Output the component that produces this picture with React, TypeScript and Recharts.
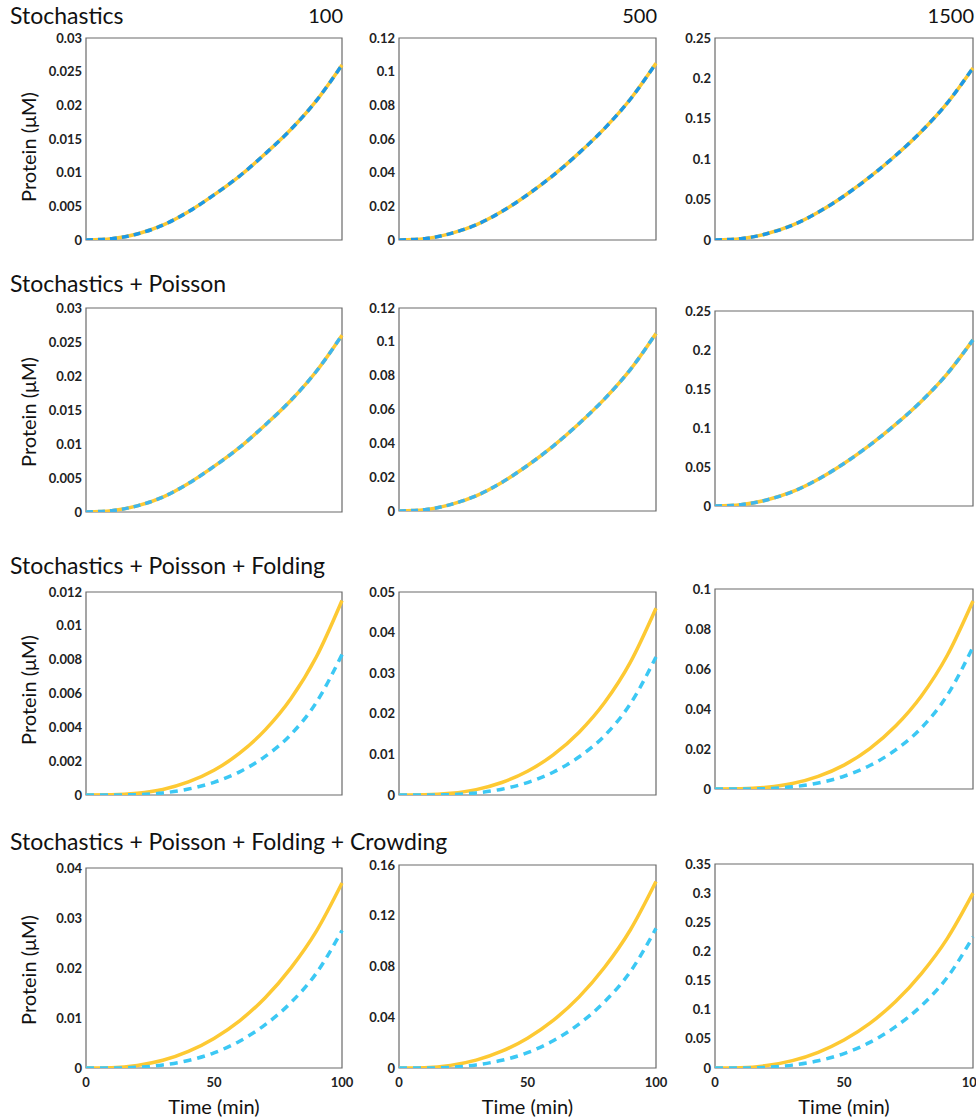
import React from 'react';
import { LineChart, Line, XAxis, YAxis, ReferenceArea } from 'recharts';

const time = [0, 10, 20, 30, 40, 50, 60, 70, 80, 90, 100];

const rowTitles = [
  'Stochastics',
  'Stochastics + Poisson',
  'Stochastics + Poisson + Folding',
  'Stochastics + Poisson + Folding + Crowding',
];
const colTitles = ['100', '500', '1500'];

// y ticks per row / column
const yTicks = [
  [
    [0, 0.005, 0.01, 0.015, 0.02, 0.025, 0.03],
    [0, 0.02, 0.04, 0.06, 0.08, 0.1, 0.12],
    [0, 0.05, 0.1, 0.15, 0.2, 0.25],
  ],
  [
    [0, 0.005, 0.01, 0.015, 0.02, 0.025, 0.03],
    [0, 0.02, 0.04, 0.06, 0.08, 0.1, 0.12],
    [0, 0.05, 0.1, 0.15, 0.2, 0.25],
  ],
  [
    [0, 0.002, 0.004, 0.006, 0.008, 0.01, 0.012],
    [0, 0.01, 0.02, 0.03, 0.04, 0.05],
    [0, 0.02, 0.04, 0.06, 0.08, 0.1],
  ],
  [
    [0, 0.01, 0.02, 0.03, 0.04],
    [0, 0.04, 0.08, 0.12, 0.16],
    [0, 0.05, 0.1, 0.15, 0.2, 0.25, 0.3, 0.35],
  ],
];

// Stochastics (rows 1 & 2: both series overlap)
const stoch100 = [0, 0.0002, 0.0009, 0.0022, 0.0042, 0.0067, 0.0095, 0.0128, 0.0164, 0.0207, 0.026];
const stoch500 = [0, 0.0008, 0.0038, 0.009, 0.0169, 0.0269, 0.0384, 0.0516, 0.0663, 0.0836, 0.105];
const stoch1500 = [0, 0.0017, 0.0077, 0.0183, 0.0343, 0.0545, 0.078, 0.1046, 0.1344, 0.1695, 0.213];

// + Folding
const foldGold100 = [0, 0.00001, 0.0001, 0.00033, 0.00077, 0.00146, 0.00247, 0.00385, 0.00569, 0.00817, 0.0115];
const foldBlue100 = [0, 0, 0.00002, 0.00012, 0.00035, 0.00075, 0.00137, 0.00228, 0.00357, 0.00548, 0.0083];
const foldGold500 = [0, 0.00005, 0.00041, 0.00133, 0.00308, 0.00584, 0.00989, 0.01541, 0.02277, 0.03266, 0.046];
const foldBlue500 = [0, 0, 0.0001, 0.00051, 0.00143, 0.00306, 0.00561, 0.00935, 0.01462, 0.02244, 0.034];
const foldGold1500 = [0, 0.0001, 0.00085, 0.00273, 0.0063, 0.01194, 0.02021, 0.03149, 0.04653, 0.06674, 0.094];
const foldBlue1500 = [0, 0, 0.00021, 0.00107, 0.00298, 0.00639, 0.01172, 0.01953, 0.03053, 0.04686, 0.071];

// + Crowding
const crowdGold100 = [0, 0.00007, 0.00052, 0.00155, 0.00333, 0.00592, 0.00944, 0.01406, 0.01998, 0.02738, 0.037];
const crowdBlue100 = [0, 0, 0.00014, 0.00061, 0.00151, 0.00303, 0.00536, 0.00866, 0.01306, 0.01898, 0.0275];
const crowdGold500 = [0, 0.00029, 0.00206, 0.00617, 0.01323, 0.02352, 0.03749, 0.05586, 0.07938, 0.10878, 0.147];
const crowdBlue500 = [0, 0, 0.00055, 0.00242, 0.00605, 0.0121, 0.02145, 0.03465, 0.05225, 0.0759, 0.11];
const crowdGold1500 = [0, 0.0006, 0.0042, 0.0126, 0.027, 0.048, 0.0765, 0.114, 0.162, 0.222, 0.3];
const crowdBlue1500 = [0, 0, 0.00113, 0.00495, 0.01238, 0.02475, 0.04388, 0.07088, 0.10688, 0.15525, 0.225];

const goldSeries = [
  [stoch100, stoch500, stoch1500],
  [stoch100, stoch500, stoch1500],
  [foldGold100, foldGold500, foldGold1500],
  [crowdGold100, crowdGold500, crowdGold1500],
];
const blueSeries = [
  [stoch100, stoch500, stoch1500],
  [stoch100, stoch500, stoch1500],
  [foldBlue100, foldBlue500, foldBlue1500],
  [crowdBlue100, crowdBlue500, crowdBlue1500],
];

const FONT = 'Lato, "Open Sans", sans-serif';
const GOLD = '#fdc933';
const blueColors = ['#1c98e6', '#3fb6ec', '#3cc8f4', '#3cc8f4'];
const blueDash = ['7 5', '7 5', '8 6', '8 6'];

// plot boxes [top, bottom] per row/col, and [left, right] per col
const colX = [
  [86, 342],
  [399, 656],
  [715, 973],
];
const rowY = [
  [[38, 240], [38, 240], [38, 240]],
  [[308, 512], [308, 511], [311, 506]],
  [[592, 795], [592, 795], [589, 789]],
  [[868, 1068], [865, 1068], [864, 1068]],
];

const AXIS_W = 60;
const TOP_PAD = 10;

interface PanelProps {
  row: number;
  col: number;
}

const Panel: React.FC<PanelProps> = ({ row, col }) => {
  const [left, right] = colX[col];
  const [top, bottom] = rowY[row][col];
  const ticks = yTicks[row][col];
  const yMax = ticks[ticks.length - 1];
  const showX = row === 3;
  const plotW = right - left;
  const plotH = bottom - top;
  const xH = showX ? 48 : 0;
  const bottomPad = showX ? 2 : 10;
  const rightPad = showX ? 16 : 6;

  const data = time.map((t, i) => ({
    t,
    gold: goldSeries[row][col][i],
    blue: blueSeries[row][col][i],
  }));

  return (
    <div style={{ position: 'absolute', left: left - AXIS_W, top: top - TOP_PAD }}>
      <LineChart
        width={AXIS_W + plotW + rightPad}
        height={TOP_PAD + plotH + xH + bottomPad}
        data={data}
        margin={{ top: TOP_PAD, right: rightPad, left: 0, bottom: bottomPad }}
      >
        <XAxis
          dataKey="t"
          type="number"
          domain={[0, 100]}
          ticks={[0, 50, 100]}
          hide={!showX}
          height={xH}
          axisLine={false}
          tickLine={false}
          tickSize={0}
          tickMargin={10}
          tick={{ fontSize: 13, fill: '#222', fontFamily: FONT, fontWeight: 700 }}
          label={{
            value: 'Time (min)',
            position: 'insideBottom',
            offset: 2,
            style: { fontSize: 20, fill: '#111', fontFamily: FONT },
          }}
        />
        <YAxis
          type="number"
          domain={[0, yMax]}
          ticks={ticks}
          width={AXIS_W}
          axisLine={false}
          tickLine={false}
          tickSize={0}
          tickMargin={4}
          interval={0}
          allowDataOverflow
          tick={{ fontSize: 13, fill: '#222', fontFamily: FONT, fontWeight: 700 }}
        />
        <ReferenceArea x1={0} x2={100} y1={0} y2={yMax} fill="none" stroke="#6a6a6a" strokeWidth={1.2} />
        <Line
          dataKey="gold"
          type="monotone"
          stroke={GOLD}
          strokeWidth={3.5}
          dot={false}
          isAnimationActive={false}
        />
        <Line
          dataKey="blue"
          type="monotone"
          stroke={blueColors[row]}
          strokeWidth={3.5}
          strokeDasharray={blueDash[row]}
          dot={false}
          isAnimationActive={false}
        />
      </LineChart>
    </div>
  );
};

const rowTitleTop = [2, 270, 552, 828];
const yLabelShift = [8, 2, -4, 2];

export default function App() {
  return (
    <div
      style={{
        position: 'absolute',
        left: 0,
        top: 0,
        width: 976,
        height: 1118,
        overflow: 'hidden',
        background: '#fff',
        fontFamily: FONT,
      }}
    >
      {rowTitles.map((title, r) => (
        <div
          key={title}
          style={{ position: 'absolute', left: 10, top: rowTitleTop[r], fontSize: 23, lineHeight: '26px', color: '#111' }}
        >
          {title}
        </div>
      ))}
      {colTitles.map((title, c) => (
        <div
          key={title}
          style={{
            position: 'absolute',
            right: 976 - colX[c][1] - 1,
            top: 3,
            fontSize: 20,
            lineHeight: '24px',
            color: '#111',
          }}
        >
          {title}
        </div>
      ))}
      {rowY.map((cols, r) => (
        <div
          key={'yl' + r}
          style={{
            position: 'absolute',
            left: 28,
            top: (cols[0][0] + cols[0][1]) / 2 + yLabelShift[r],
            transform: 'translate(-50%, -50%) rotate(-90deg)',
            whiteSpace: 'nowrap',
            fontSize: 20,
            color: '#111',
          }}
        >
          Protein (μM)
        </div>
      ))}
      {[0, 1, 2, 3].map((r) =>
        [0, 1, 2].map((c) => <Panel key={r + '-' + c} row={r} col={c} />)
      )}
    </div>
  );
}
